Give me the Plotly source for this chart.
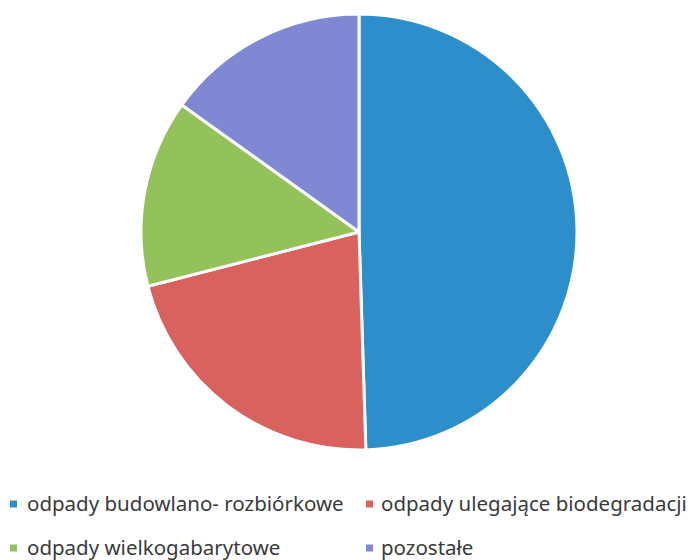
import plotly.graph_objects as go

labels = ["odpady budowlano- rozbiórkowe", "odpady ulegające biodegradacji",
          "odpady wielkogabarytowe", "pozostałe"]
values = [49.5, 21.5, 13.9, 15.1]
colors = ["#2c8fcb", "#d9625f", "#93c25a", "#8188d3"]

W, H = 691, 560
cx, cy, r = 359, 232, 218

fig = go.Figure(go.Pie(
    labels=labels, values=values, sort=False, direction="clockwise", rotation=0,
    marker=dict(colors=colors, line=dict(color="white", width=3)),
    textinfo="none", hoverinfo="label+percent", showlegend=False,
    domain=dict(x=[(cx - r) / W, (cx + r) / W], y=[1 - (cy + r) / H, 1 - (cy - r) / H]),
))

# legend drawn as a 2x2 grid of coloured squares + labels
key_x = [10, 366, 10, 366]       # px left of each key square
text_x = [25, 379, 25, 379]      # px where each label starts
row_y = [504, 504, 548, 548]     # px centre of each row
for i, (lab, col) in enumerate(zip(labels, colors)):
    fig.add_shape(type="rect", xref="paper", yref="paper",
                  x0=key_x[i] / W, x1=(key_x[i] + 7) / W,
                  y0=1 - (row_y[i] + 3.5) / H, y1=1 - (row_y[i] - 3.5) / H,
                  fillcolor=col, line=dict(width=0))
    fig.add_annotation(text=lab, xref="paper", yref="paper",
                       x=text_x[i] / W, y=1 - (row_y[i] - 1.5) / H,
                       xanchor="left", yanchor="middle", showarrow=False,
                       font=dict(size=20.5, family="Noto Sans", color="#3a3a3a"))

fig.update_layout(
    width=W, height=H, margin=dict(l=0, r=0, t=0, b=0),
    paper_bgcolor="white", plot_bgcolor="white",
    font=dict(family="Noto Sans", color="#3a3a3a"),
    showlegend=False,
)
fig.write_html("out.html", config={"displayModeBar": False},
               post_script="document.body.style.margin='0';")
